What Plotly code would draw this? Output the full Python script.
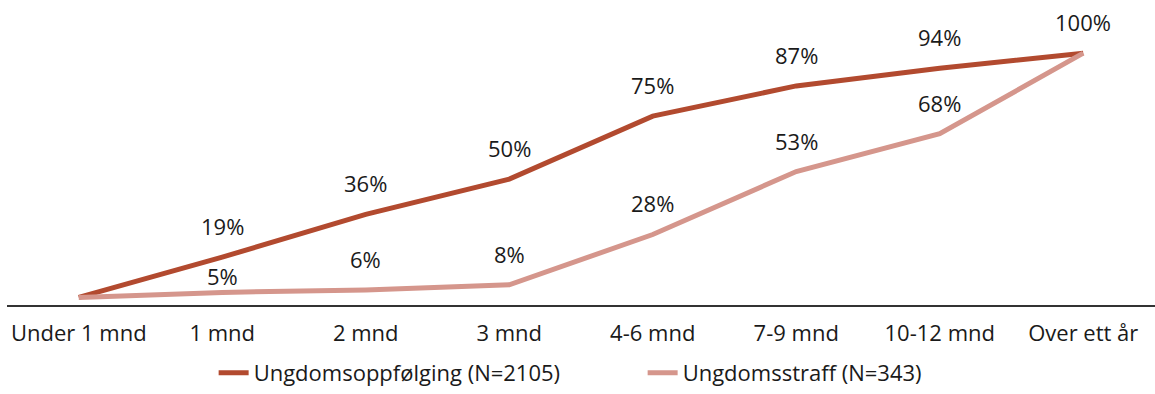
import plotly.graph_objects as go

categories = ["Under 1 mnd", "1 mnd", "2 mnd", "3 mnd", "4-6 mnd", "7-9 mnd", "10-12 mnd", "Over ett år"]
oppfolging = [3, 19, 36, 50, 75, 87, 94, 100]
straff = [3, 5, 6, 8, 28, 53, 68, 100]
# the first category carries no value label
labelled_from = 1

dark = "#B24A2F"
light = "#D5968C"
font_family = "'Open Sans', sans-serif"
text_size = 22

fig = go.Figure()
fig.add_trace(go.Scatter(x=categories, y=oppfolging, mode="lines",
                         name="Ungdomsoppfølging (N=2105)",
                         line=dict(color=dark, width=5)))
fig.add_trace(go.Scatter(x=categories, y=straff, mode="lines",
                         name="Ungdomsstraff (N=343)",
                         line=dict(color=light, width=5)))

annotations = []
for series, values in (("opp", oppfolging), ("straff", straff)):
    for i in range(labelled_from, len(categories)):
        if series == "straff" and values[i] == 100:
            continue  # shared end point is labelled once
        shift = 31
        if series == "straff" and i == 1:
            shift = 16
        annotations.append(dict(x=categories[i], y=values[i], text=f"{values[i]}%",
                                showarrow=False, yshift=shift,
                                font=dict(size=text_size, color="#1a1a1a", family=font_family)))

fig.update_layout(
    width=1155, height=394,
    margin=dict(l=7, r=0, t=28, b=0),
    plot_bgcolor="white", paper_bgcolor="white",
    font=dict(family=font_family, size=text_size, color="#1a1a1a"),
    showlegend=True,
    legend=dict(orientation="h", x=0.18, xanchor="left", y=0, yanchor="bottom",
                font=dict(size=text_size), entrywidth=384),
    annotations=annotations,
)
# plot area spans 28..394 px; axis baseline sits at 305 px
fig.update_xaxes(range=[-0.5, 7.5], showgrid=False, showline=True, linecolor="#333333",
                 linewidth=1.5, ticks="", ticklabelstandoff=8)
fig.update_yaxes(range=[0, 110], showgrid=False, showticklabels=False, zeroline=False,
                 showline=False, domain=[89 / 366, 1])

fig.write_html("out.html")
